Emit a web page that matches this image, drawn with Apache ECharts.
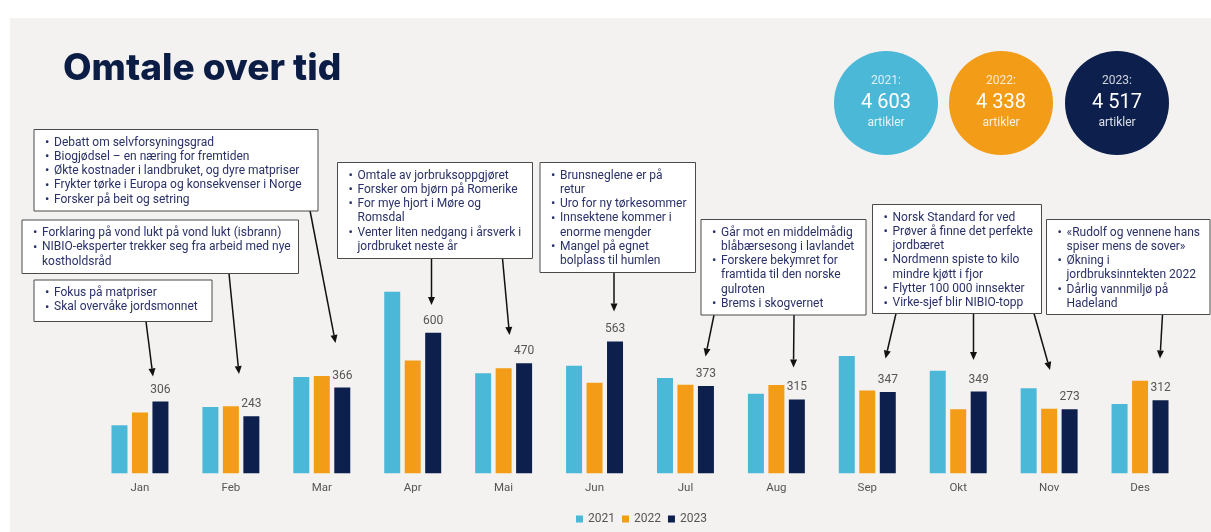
<!DOCTYPE html>
<html>
<head>
<meta charset="utf-8">
<script src="https://cdn.jsdelivr.net/npm/echarts@6/dist/echarts.min.js"></script>
<style>
  html, body { margin: 0; padding: 0; background: #fff; }
  #chart { width: 1211px; height: 532px; }
</style>
</head>
<body>
<div id="chart"></div>
<script>
// data
const months = ['Jan', 'Feb', 'Mar', 'Apr', 'Mai', 'Jun', 'Jul', 'Aug', 'Sep', 'Okt', 'Nov', 'Des']
const years = ['2021', '2022', '2023']
const v2021 = [205, 283, 411, 775, 427, 459, 407, 340, 501, 438, 363, 296]
const v2022 = [260, 286, 415, 481, 448, 387, 378, 377, 353, 273, 276, 395]
const v2023 = [306, 243, 366, 600, 470, 563, 373, 315, 347, 349, 273, 312]
const totals = ['4 603', '4 338', '4 517']
const colors = ['#4cb8d7', '#f29c17', '#0d1f4c']

// tekst i boksene, hvert punkt er en liste med linjer
const noteTexts = [
  [['Debatt om selvforsyningsgrad'], ['Biogjødsel – en næring for fremtiden'], ['Økte kostnader i landbruket, og dyre matpriser'], ['Frykter tørke i Europa og konsekvenser i Norge'], ['Forsker på beit og setring']],
  [['Forklaring på vond lukt på vond lukt (isbrann)'], ['NIBIO-eksperter trekker seg fra arbeid med nye', 'kostholdsråd']],
  [['Fokus på matpriser'], ['Skal overvåke jordsmonnet']],
  [['Omtale av jorbruksoppgjøret'], ['Forsker om bjørn på Romerike'], ['For mye hjort i Møre og', 'Romsdal'], ['Venter liten nedgang i årsverk i', 'jordbruket neste år']],
  [['Brunsneglene er på', 'retur'], ['Uro for ny tørkesommer'], ['Innsektene kommer i', 'enorme mengder'], ['Mangel på egnet', 'bolplass til humlen']],
  [['Går mot en middelmådig', 'blåbærsesong i lavlandet'], ['Forskere bekymret for', 'framtida til den norske', 'gulroten'], ['Brems i skogvernet']],
  [['Norsk Standard for ved'], ['Prøver å finne det perfekte', 'jordbæret'], ['Nordmenn spiste to kilo', 'mindre kjøtt i fjor'], ['Flytter 100 000 innsekter'], ['Virke-sjef blir NIBIO-topp']],
  [['«Rudolf og vennene hans', 'spiser mens de sover»'], ['Økning i', 'jordbruksinntekten 2022'], ['Dårlig vannmiljø på', 'Hadeland']]
]

// plassering: boks [x, y, w, h], piler [x1, y1, x2, y2]
const noteBoxes = [
  [34, 129.5, 284, 81.5],
  [22, 220, 276.5, 53.5],
  [34, 280, 178, 41.5],
  [337.5, 162.5, 195, 96],
  [540, 162.5, 155.5, 110],
  [701, 219.5, 165, 95.5],
  [872.5, 204.5, 169, 109],
  [1046.5, 219.5, 163.5, 95]
]
const noteArrows = [
  [310, 210.5, 335.5, 343],
  [229, 273.5, 239, 374],
  [146, 321.5, 153, 376.5],
  [431.5, 258.5, 431.5, 305],
  [502.5, 258.5, 509.5, 335],
  [614, 272.5, 614, 311.5],
  [714, 315, 705.5, 356.5],
  [794, 315, 793.5, 367.5],
  [896, 313.5, 885.5, 358.5],
  [973.5, 313.5, 973.5, 360],
  [1034, 313.5, 1050, 370],
  [1162.5, 314.5, 1160, 358.5]
]

const lineH = 14.3
const graphics = []

// bakgrunn
graphics.push({ type: 'rect', z: -10, shape: { x: 10, y: 18, width: 1201, height: 514 }, style: { fill: '#f3f2f1' } })

// tittel
graphics.push({
  type: 'text', x: 63, y: 69,
  style: { text: 'Omtale over tid', fill: '#0b1c45', font: '800 37px Inter', textVerticalAlign: 'middle' }
})

// sirkler med totaler
const circleX = [886, 1001, 1117]
years.forEach((y, i) => {
  graphics.push({ type: 'circle', shape: { cx: circleX[i], cy: 103, r: 52 }, style: { fill: colors[i] } })
  graphics.push({ type: 'text', x: circleX[i], y: 81, style: { text: y + ':', fill: 'rgba(255,255,255,0.8)', font: '12px Roboto', textAlign: 'center', textVerticalAlign: 'middle' } })
  graphics.push({ type: 'text', x: circleX[i], y: 103, style: { text: totals[i], fill: '#fff', font: '20px Roboto', textAlign: 'center', textVerticalAlign: 'middle' } })
  graphics.push({ type: 'text', x: circleX[i], y: 123, style: { text: 'artikler', fill: 'rgba(255,255,255,0.85)', font: '12px Roboto', textAlign: 'center', textVerticalAlign: 'middle' } })
})

// bokser
noteBoxes.forEach((b, i) => {
  graphics.push({ type: 'rect', z: 5, shape: { x: b[0], y: b[1], width: b[2], height: b[3] }, style: { fill: '#fff', stroke: '#4a4a4a', lineWidth: 1 } })
  let ty = b[1] + 13
  noteTexts[i].forEach(item => {
    graphics.push({ type: 'text', z: 6, x: b[0] + 11, y: ty, style: { text: '•', fill: '#2a3168', font: '13px Roboto', textVerticalAlign: 'middle' } })
    graphics.push({ type: 'text', z: 6, x: b[0] + 20, y: ty - lineH / 2, style: { text: item.join('\n'), fill: '#2a3168', font: '12px Roboto', lineHeight: lineH, textVerticalAlign: 'top' } })
    ty += item.length * lineH
  })
})

// piler
noteArrows.forEach(a => {
  const dx = a[2] - a[0], dy = a[3] - a[1]
  const len = Math.sqrt(dx * dx + dy * dy)
  const ux = dx / len, uy = dy / len
  const hl = 8, hw = 3.5
  const bx = a[2] - ux * hl, by = a[3] - uy * hl
  graphics.push({ type: 'line', z: 4, shape: { x1: a[0], y1: a[1], x2: bx, y2: by }, style: { stroke: '#111', lineWidth: 1.5 } })
  graphics.push({
    type: 'polygon', z: 4,
    shape: { points: [[a[2], a[3]], [bx - uy * hw, by + ux * hw], [bx + uy * hw, by - ux * hw]] },
    style: { fill: '#111' }
  })
})

const seriesData = [v2021, v2022, v2023]
const chart = echarts.init(document.getElementById('chart'))
chart.setOption({
  animation: false,
  backgroundColor: '#fff',
  color: colors,
  textStyle: { fontFamily: 'Roboto' },
  grid: { left: 94.5, right: 25.5, top: 239, bottom: 58.7 },
  legend: {
    left: 571, top: 508,
    itemWidth: 7, itemHeight: 7, itemGap: 7,
    icon: 'rect',
    textStyle: { color: '#555', fontSize: 12, fontFamily: 'Roboto' },
    data: years
  },
  xAxis: {
    type: 'category',
    data: months,
    axisLine: { show: false },
    axisTick: { show: false },
    axisLabel: { color: '#555', fontSize: 11.5, margin: 9 }
  },
  yAxis: { type: 'value', min: 0, max: 1000, show: false, splitLine: { show: false } },
  series: years.map((y, i) => ({
    name: y,
    type: 'bar',
    data: seriesData[i],
    barWidth: 16,
    barGap: '28%',
    label: {
      show: i === 2,
      position: 'top',
      distance: 6,
      color: '#555',
      fontSize: 12
    }
  })),
  graphic: graphics
})
</script>
</body>
</html>
